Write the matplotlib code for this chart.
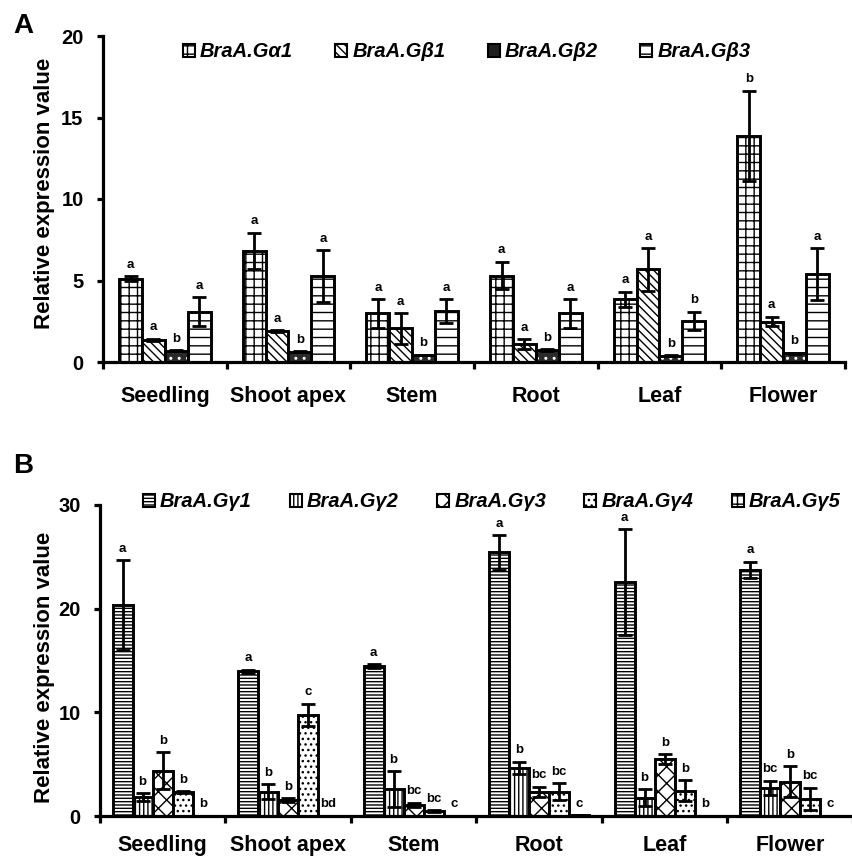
import matplotlib
matplotlib.use("Agg")
import matplotlib.pyplot as plt
from matplotlib.patches import Patch
import numpy as np

plt.rcParams['font.family'] = ['Liberation Sans', 'DejaVu Sans']
plt.rcParams['font.weight'] = 'bold'
plt.rcParams['hatch.linewidth'] = 1.0

tissues = ["Seedling", "Shoot apex", "Stem", "Root", "Leaf", "Flower"]

# Panel A
genes_a = ["BraA.G\u03b11", "BraA.G\u03b21", "BraA.G\u03b22", "BraA.G\u03b23"]
a_galpha1 = [5.1, 6.83, 2.98, 5.3, 3.85, 13.87]
a_gbeta1 = [1.35, 1.9, 2.06, 1.1, 5.68, 2.48]
a_gbeta2 = [0.69, 0.63, 0.43, 0.74, 0.37, 0.53]
a_gbeta3 = [3.09, 5.28, 3.13, 2.98, 2.54, 5.38]
a_err_galpha1 = [0.15, 1.1, 0.88, 0.85, 0.46, 2.77]
a_err_gbeta1 = [0.08, 0.05, 0.95, 0.3, 1.3, 0.3]
a_err_gbeta2 = [0.03, 0.03, 0.03, 0.05, 0.03, 0.05]
a_err_gbeta3 = [0.9, 1.6, 0.72, 0.87, 0.55, 1.6]
a_letters_galpha1 = ["a", "a", "a", "a", "a", "b"]
a_letters_gbeta1 = ["a", "a", "a", "a", "a", "a"]
a_letters_gbeta2 = ["b", "b", "b", "b", "b", "b"]
a_letters_gbeta3 = ["a", "a", "a", "a", "b", "a"]

# Panel B
genes_b = ["BraA.G\u03b31", "BraA.G\u03b32", "BraA.G\u03b33", "BraA.G\u03b34", "BraA.G\u03b35"]
b_ggamma1 = [20.35, 13.98, 14.46, 25.42, 22.6, 23.72]
b_ggamma2 = [1.8, 2.34, 2.6, 4.66, 1.77, 2.73]
b_ggamma3 = [4.37, 1.54, 1.1, 2.34, 5.5, 3.3]
b_ggamma4 = [2.28, 9.74, 0.47, 2.34, 2.44, 1.64]
b_ggamma5 = [0.02, 0.02, 0.02, 0.05, 0.02, 0.02]
b_err_ggamma1 = [4.3, 0.15, 0.2, 1.68, 5.1, 0.8]
b_err_ggamma2 = [0.4, 0.7, 1.7, 0.58, 0.8, 0.67]
b_err_ggamma3 = [1.77, 0.2, 0.2, 0.5, 0.45, 1.5]
b_err_ggamma4 = [0.1, 1.1, 0.1, 0.8, 1.0, 1.1]
b_err_ggamma5 = [0.0, 0.0, 0.0, 0.0, 0.0, 0.0]
b_letters_ggamma1 = ["a", "a", "a", "a", "a", "a"]
b_letters_ggamma2 = ["b", "b", "b", "b", "b", "bc"]
b_letters_ggamma3 = ["b", "b", "bc", "bc", "b", "b"]
b_letters_ggamma4 = ["b", "c", "bc", "bc", "b", "bc"]
b_letters_ggamma5 = ["b", "bd", "c", "c", "b", "c"]

W, H = 853, 856
fig = plt.figure(figsize=(W / 100, H / 100), dpi=100)

def px_axes(left, right, top, bottom):
    return fig.add_axes([left / W, 1 - bottom / H, (right - left) / W, (bottom - top) / H])

axA = px_axes(103, 845, 36, 362)
axB = px_axes(100, 853, 505, 816)

LW = 2.1

def style_axis(ax, ymax, yticks, xpad):
    ax.set_xlim(0, len(tissues))
    ax.set_ylim(0, ymax)
    for s in ["top", "right"]:
        ax.spines[s].set_visible(False)
    for s in ["left", "bottom"]:
        ax.spines[s].set_linewidth(2.3)
    ax.set_yticks(yticks)
    ax.set_yticklabels([str(t) for t in yticks], fontsize=14.5, fontweight='bold')
    ax.tick_params(axis='y', direction='out', length=4, width=2.3, pad=10)
    ax.set_xticks(np.arange(len(tissues) + 1))
    ax.set_xticklabels([])
    ax.tick_params(axis='x', which='major', direction='out', length=5, width=2.3)
    ax.set_xticks(np.arange(len(tissues)) + 0.5, minor=True)
    ax.set_xticklabels(tissues, minor=True, fontsize=15.5, fontweight='bold')
    ax.tick_params(axis='x', which='minor', length=0, pad=xpad)

def draw_group(ax, series, errs, letters, styles, width):
    n = len(series)
    centers = np.arange(len(tissues)) + 0.5
    handles = []
    for j in range(n):
        x = centers + (j - (n - 1) / 2) * width
        st = styles[j]
        if st.get('dark'):
            ax.bar(x, series[j], width, facecolor='#2a2a2a', edgecolor='white',
                   hatch=st['hatch'], linewidth=0, zorder=2)
            ax.bar(x, series[j], width, fill=False, edgecolor='black', linewidth=LW, zorder=3)
            handles.append(Patch(facecolor='#1e1e1e', edgecolor='black', linewidth=1.5))
        else:
            ax.bar(x, series[j], width, facecolor='white', edgecolor='black',
                   hatch=st['hatch'], linewidth=LW, zorder=2)
            handles.append(Patch(facecolor='white', edgecolor='black', hatch=st['hatch'], linewidth=1.5))
        ax.errorbar(x, series[j], yerr=errs[j], fmt='none', ecolor='black',
                    elinewidth=2, capsize=5, capthick=2, zorder=4)
        for xi, v, e, lab in zip(x, series[j], errs[j], letters[j]):
            ax.annotate(lab, xy=(xi, v + e), xytext=(0, 6), textcoords='offset points',
                        ha='center', va='baseline', fontsize=9.5, fontweight='bold')
    return handles

style_axis(axA, 20, [0, 5, 10, 15, 20], 17)
style_axis(axB, 30, [0, 10, 20, 30], 14)

stylesA = [{'hatch': '++'}, {'hatch': '\\\\\\\\'}, {'hatch': '..', 'dark': True}, {'hatch': '--'}]
hA = draw_group(axA, [a_galpha1, a_gbeta1, a_gbeta2, a_gbeta3],
                [a_err_galpha1, a_err_gbeta1, a_err_gbeta2, a_err_gbeta3],
                [a_letters_galpha1, a_letters_gbeta1, a_letters_gbeta2, a_letters_gbeta3],
                stylesA, 0.185)

stylesB = [{'hatch': '-----'}, {'hatch': '||||'}, {'hatch': 'xx'}, {'hatch': '...'}, {'hatch': '++'}]
hB = draw_group(axB, [b_ggamma1, b_ggamma2, b_ggamma3, b_ggamma4, b_ggamma5],
                [b_err_ggamma1, b_err_ggamma2, b_err_ggamma3, b_err_ggamma4, b_err_ggamma5],
                [b_letters_ggamma1, b_letters_ggamma2, b_letters_ggamma3, b_letters_ggamma4, b_letters_ggamma5],
                stylesB, 0.16)

leg_font = {'family': ['Liberation Sans', 'DejaVu Sans'], 'weight': 'bold', 'style': 'italic', 'size': 14.5}
axA.legend(hA, genes_a, loc='center', bbox_to_anchor=(0.49, 0.951), ncol=4, frameon=False,
           prop=leg_font, handlelength=0.6, handleheight=0.6, handletextpad=0.25,
           columnspacing=2.1, borderpad=0)
axB.legend(hB, genes_b, loc='center', bbox_to_anchor=(0.52, 1.01), ncol=5, frameon=False,
           prop=leg_font, handlelength=0.6, handleheight=0.6, handletextpad=0.25,
           columnspacing=1.9, borderpad=0)

fig.text(45 / W, 1 - 193.5 / H, "Relative expression value", rotation=90,
         ha='center', va='center', fontsize=16, fontweight='bold')
fig.text(45 / W, 1 - 667 / H, "Relative expression value", rotation=90,
         ha='center', va='center', fontsize=16, fontweight='bold')
fig.text(13 / W, 1 - 33 / H, "A", fontsize=20, fontweight='bold', va='baseline')
fig.text(13 / W, 1 - 473 / H, "B", fontsize=20, fontweight='bold', va='baseline')

fig.savefig("out.png", dpi=100)
